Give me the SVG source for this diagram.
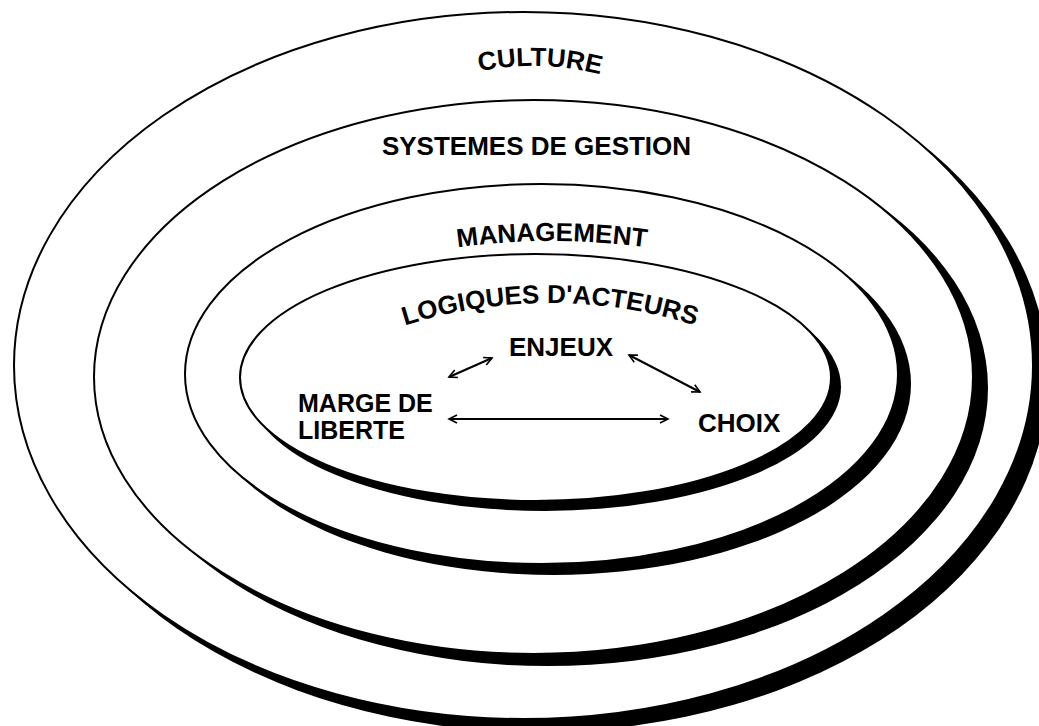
<svg xmlns="http://www.w3.org/2000/svg" xmlns:xlink="http://www.w3.org/1999/xlink" width="1039" height="726" viewBox="0 0 1039 726">
<style>
.ring{fill:#fff;stroke:#000;stroke-width:2}
.shadow{fill:#000;stroke:none}
.lbl{font-family:"Liberation Sans",Arial,sans-serif;font-weight:bold;font-size:26px;fill:#000}
.sm{font-size:25px}
.conn{stroke:#000;stroke-width:2;fill:none;marker-start:url(#ah);marker-end:url(#ah)}
</style>
<defs>
<marker id="ah" markerUnits="userSpaceOnUse" markerWidth="12" markerHeight="10" refX="9" refY="5" orient="auto-start-reverse">
<path d="M1,1 L9,5 L1,9" fill="none" stroke="#000" stroke-width="1.6"/>
</marker>
<path id="arcCulture" d="M405,102.2 A270,270 0 0 1 675,102.2"/>
<path id="arcManagement" d="M312.6,283.2 A700,700 0 0 1 791.4,283.2"/>
<path id="arcLogiques" d="M347.1,348 A480,480 0 0 1 752.9,348"/>
</defs>
<rect width="1039" height="726" fill="#fff"/>
<g id="culture">
<ellipse class="shadow" cx="537.5" cy="377.5" rx="510.5" ry="354.5"/>
<ellipse class="ring" cx="523.5" cy="365.5" rx="509.5" ry="353.5"/>
<text class="lbl" transform="rotate(1.5 540 66)"><textPath href="#arcCulture" startOffset="50%" text-anchor="middle">CULTURE</textPath></text>
</g>
<g id="systemes-de-gestion">
<ellipse class="shadow" cx="547.5" cy="388" rx="440.5" ry="278"/>
<ellipse class="ring" cx="533.5" cy="377" rx="439.5" ry="277"/>
<text class="lbl" x="536.5" y="155" text-anchor="middle">SYSTEMES DE GESTION</text>
</g>
<g id="management">
<ellipse class="shadow" cx="553.5" cy="384" rx="357.5" ry="191"/>
<ellipse class="ring" cx="541.5" cy="374" rx="356.5" ry="190"/>
<text class="lbl"><textPath href="#arcManagement" startOffset="50%" text-anchor="middle">MANAGEMENT</textPath></text>
</g>
<g id="logiques-d-acteurs">
<ellipse class="shadow" cx="544.5" cy="386.5" rx="296.5" ry="124.5"/>
<ellipse class="ring" cx="535.5" cy="377.5" rx="295.5" ry="123.5"/>
<text class="lbl"><textPath href="#arcLogiques" startOffset="50%" text-anchor="middle">LOGIQUES D'ACTEURS</textPath></text>
</g>
<g id="enjeux">
<text class="lbl" x="561" y="356" text-anchor="middle">ENJEUX</text>
</g>
<g id="marge-de-liberte">
<text class="lbl sm" x="298" y="412">MARGE DE</text>
<text class="lbl sm" x="298" y="439">LIBERTE</text>
</g>
<g id="choix">
<text class="lbl" x="698" y="432">CHOIX</text>
</g>
<g id="connectors">
<line class="conn" x1="449" y1="377" x2="492" y2="358"/>
<line class="conn" x1="629" y1="355" x2="700" y2="392"/>
<line class="conn" x1="449" y1="419" x2="668" y2="419"/>
</g>
</svg>
